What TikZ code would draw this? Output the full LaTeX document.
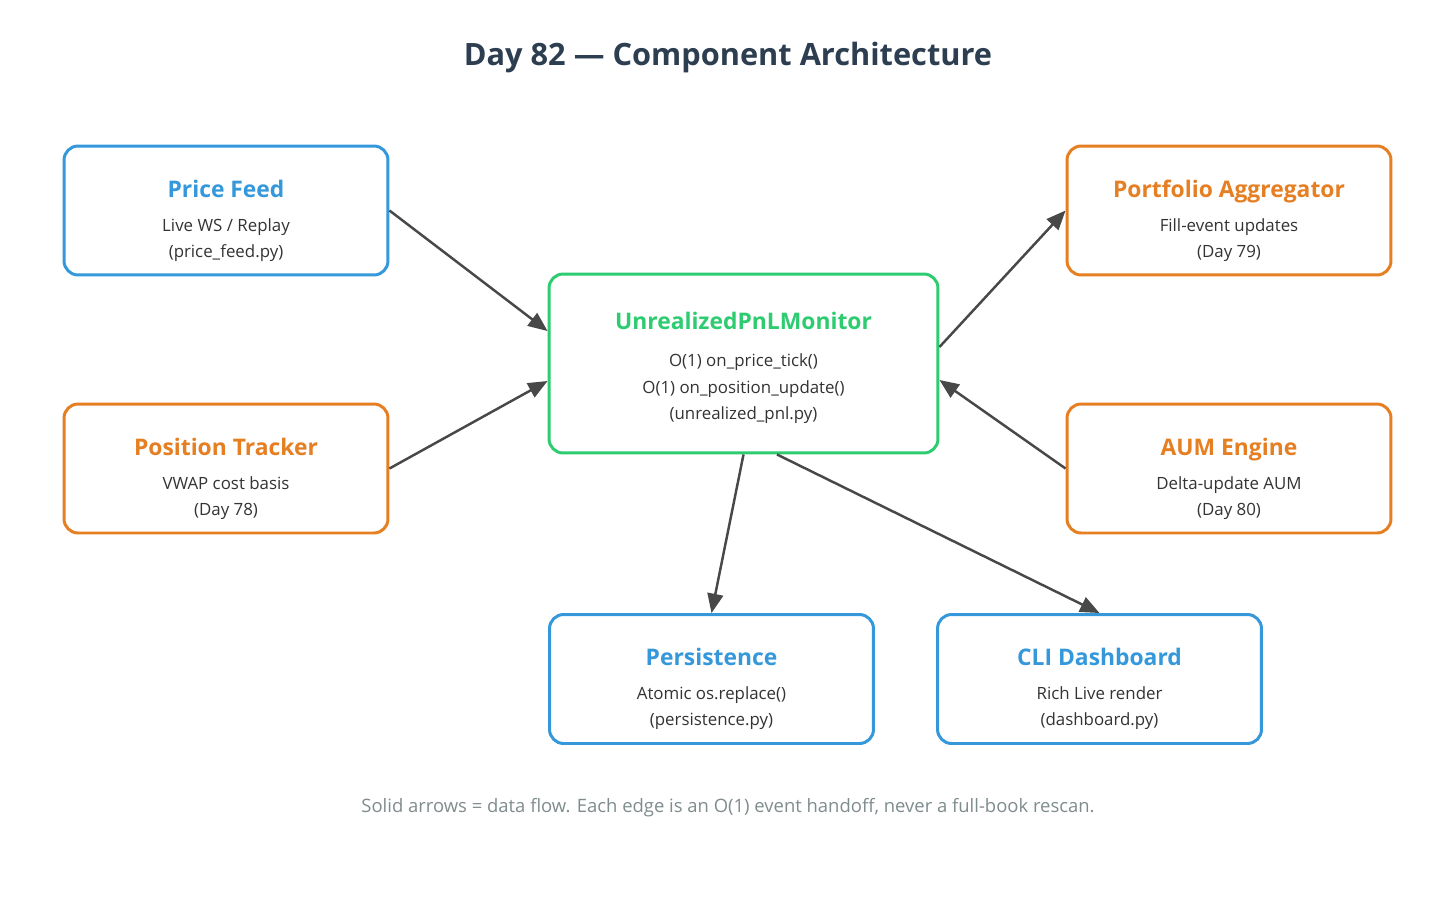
\documentclass[tikz,border=0pt]{standalone}
\usepackage{fontspec}
\setmainfont{Open Sans}
\usetikzlibrary{arrows.meta,calc}

\definecolor{feedblue}{HTML}{3498DB}
\definecolor{bookorange}{HTML}{E67E22}
\definecolor{pnlgreen}{HTML}{2ECC71}
\definecolor{headnavy}{HTML}{2C3E50}
\definecolor{edgegray}{HTML}{484848}
\definecolor{notegray}{HTML}{7F8C8D}
\definecolor{bodygray}{HTML}{333333}

\tikzset{
	comp/.style={draw, line width=1.7pt, rounded corners=8pt, fill=white, minimum width=6.48cm, minimum height=2.58cm},
	bluecomp/.style={comp, draw=feedblue},
	orangecomp/.style={comp, draw=bookorange},
	greencomp/.style={comp, draw=pnlgreen, minimum width=7.78cm, minimum height=3.58cm},
	comptext/.style={anchor=north, inner sep=0pt, align=center, text=bodygray, font=\fontsize{9.6}{15}\selectfont},
	flow/.style={draw=edgegray, line width=1.4pt, -{Triangle[length=11pt,width=9pt]}},
}
\newcommand{\comphead}[2]{{\color{#1}\bfseries\fontsize{13}{15}\selectfont #2}}

\begin{document}
\begin{tikzpicture}[x=0.02cm, y=-0.02cm]
			%%%%% START %%%%%
			
			\fill[white] (0, 0) rectangle (1456, 906);
			\useasboundingbox (0, 0) rectangle (1456, 906);
			
			\node[text=headnavy, font=\bfseries\fontsize{17.5}{21}\selectfont] (head) at (728, 58) {Day 82 --- Component Architecture};
			
			\node[bluecomp] (pf) at (226, 210.5) {};
			\node[comptext] (pftext) at ([yshift=-0.70cm]pf.north) {\comphead{feedblue}{Price Feed}\\[4.3pt] Live WS / Replay\\ (price\_feed.py)};
			
			\node[orangecomp] (pt) at (226, 468.5) {};
			\node[comptext] (pttext) at ([yshift=-0.70cm]pt.north) {\comphead{bookorange}{Position Tracker}\\[4.3pt] VWAP cost basis\\ (Day 78)};
			
			\node[greencomp] (mon) at (743.5, 363.5) {};
			\node[comptext] (montext) at ([yshift=-0.78cm]mon.north) {\comphead{pnlgreen}{UnrealizedPnLMonitor}\\[6.3pt] O(1) on\_price\_tick()\\ O(1) on\_position\_update()\\ (unrealized\_pnl.py)};
			
			\node[orangecomp] (pa) at (1229, 210.5) {};
			\node[comptext] (patext) at ([yshift=-0.70cm]pa.north) {\comphead{bookorange}{Portfolio Aggregator}\\[4.3pt] Fill-event updates\\ (Day 79)};
			
			\node[orangecomp] (ae) at (1229, 468.5) {};
			\node[comptext] (aetext) at ([yshift=-0.70cm]ae.north) {\comphead{bookorange}{AUM Engine}\\[4.3pt] Delta-update AUM\\ (Day 80)};
			
			\node[bluecomp] (ps) at (711.5, 679) {};
			\node[comptext] (pstext) at ([yshift=-0.70cm]ps.north) {\comphead{feedblue}{Persistence}\\[4.3pt] Atomic os.replace()\\ (persistence.py)};
			
			\node[bluecomp] (cli) at (1099.5, 679) {};
			\node[comptext] (clitext) at ([yshift=-0.70cm]cli.north) {\comphead{feedblue}{CLI Dashboard}\\[4.3pt] Rich Live render\\ (dashboard.py)};
			
			\draw[flow] (pf.east) -- ([yshift=0.65cm]mon.west);
			\draw[flow] (pt.east) -- ([yshift=-0.35cm]mon.west);
			\draw[flow] ([yshift=0.33cm]mon.east) -- (pa.west);
			\draw[flow] (ae.west) -- ([yshift=-0.33cm]mon.east);
			\draw[flow] (mon.south) -- (ps.north);
			\draw[flow] ([xshift=0.67cm]mon.south) -- (cli.north);
			
			\node[text=notegray, font=\fontsize{10.5}{13}\selectfont] (note) at (728, 808) {Solid arrows = data flow. Each edge is an O(1) event handoff, never a full-book rescan.};
			
			%%%%% END %%%%%
\end{tikzpicture}
\end{document}
